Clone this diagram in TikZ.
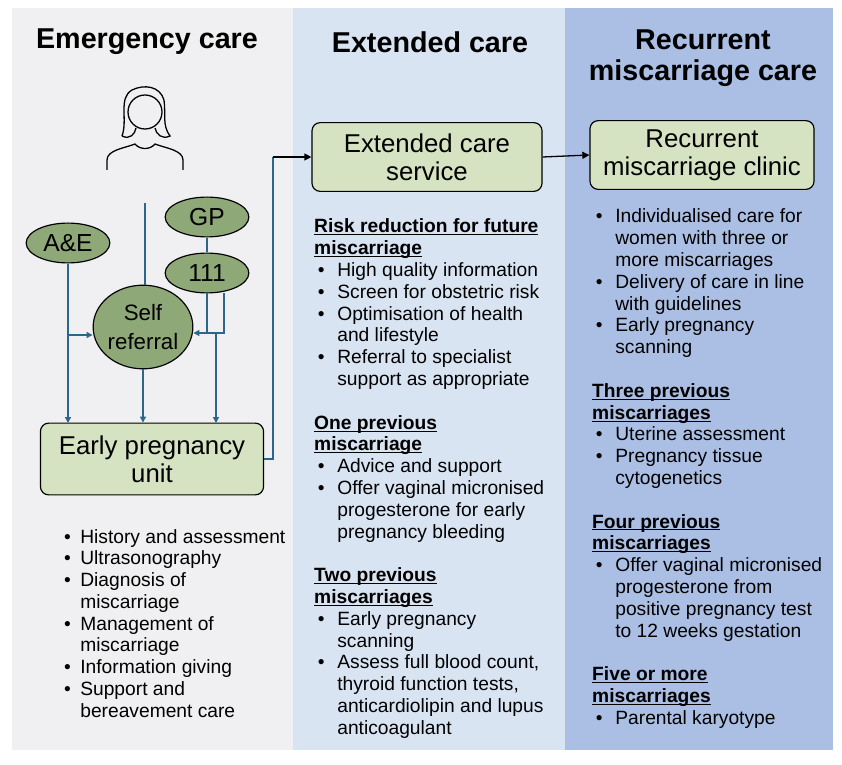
\documentclass[tikz,border=0pt]{standalone}
\usepackage{fontspec}
\setmainfont{Liberation Sans}
\usepackage{xcolor}
\usetikzlibrary{arrows.meta,shapes.geometric}
\definecolor{panelgrey}{HTML}{F0F0F2}
\definecolor{panelblue}{HTML}{D9E4F2}
\definecolor{paneldark}{HTML}{AABFE3}
\definecolor{boxgreen}{HTML}{D6E3C2}
\definecolor{ovalgreen}{HTML}{8EA878}
\definecolor{flowteal}{HTML}{2C6789}
\newcommand{\hd}[1]{\multicolumn{2}{@{}l@{}}{\underline{\smash{\textbf{#1}}}}}
\newcommand{\bl}{\textbullet}
\newcommand{\px}{0.85pt}
\tikzset{
  box/.style={draw=black, line width=1pt, rounded corners=7pt, fill=boxgreen, align=center, font=\fontsize{22}{24}\selectfont},
  oval/.style={draw=black, line width=1pt, ellipse, fill=ovalgreen, inner sep=0pt, font=\fontsize{21}{22}\selectfont},
  flow/.style={draw=flowteal, line width=1.1pt, -{Triangle[length=5pt,width=5pt]}},
  lst/.style={anchor=base west, inner sep=0pt, font=\fontsize{16.4}{18.6}\selectfont},
  ttl/.style={font=\fontsize{24.5}{26}\selectfont\bfseries, align=center}
}
\begin{document}
\begin{tikzpicture}[x=0.03cm,y=-0.03cm]
\useasboundingbox (0,0) rectangle (842,765);
% panels
\fill[panelgrey] (12,8) rectangle (293,750);
\fill[panelblue] (293,8) rectangle (565,750);
\fill[paneldark] (565,8) rectangle (833,750);
% titles
\node[ttl] at (147,42) {Emergency care};
\node[ttl] at (430,42) {Extended care};
\node[ttl] at (703,58) {Recurrent\\miscarriage care};
% person
\draw[line width=1.1pt] (145,112) circle (17);
\draw[line width=1.1pt] (122,136) .. controls (128,120) and (118,98) .. (132,90)
  .. controls (144,84) and (160,86) .. (164,100) .. controls (166,115) and (162,125) .. (170,136)
  .. controls (162,140) and (156,134) .. (155,128);
\draw[line width=1.1pt] (122,136) .. controls (130,140) and (135,134) .. (136,128);
\draw[line width=1.1pt] (107,170) -- (107,160) .. controls (107,150) and (125,148) .. (135,144)
  .. controls (140,150) and (150,150) .. (155,144) .. controls (165,148) and (183,150) .. (183,160) -- (183,170);
% nodes
\node[oval, minimum width=84*\px, minimum height=40*\px] (ae) at (68,243) {A\&E};
\node[oval, minimum width=84*\px, minimum height=40*\px] (gp) at (207,217) {GP};
\node[oval, minimum width=84*\px, minimum height=40*\px] (nhs) at (207,273) {111};
\node[oval, minimum width=96*\px, minimum height=84*\px, align=center, font=\fontsize{19}{24}\selectfont] (self) at (143,327) {Self\\referral};
\node[box, minimum width=224*\px, minimum height=72*\px] (epu) at (152,459) {Early pregnancy\\unit};
\node[box, minimum width=231*\px, minimum height=69*\px] (ext) at (427,157) {Extended care\\service};
\node[box, minimum width=225*\px, minimum height=69*\px] (rec) at (702,155) {Recurrent\\miscarriage clinic};
\coordinate (selftop) at (145,203);
% connectors
\draw[draw=flowteal, line width=1.1pt] (gp) -- (nhs);
\draw[draw=flowteal, line width=1.1pt] (selftop) -- (selftop |- self.north);
\draw[flow] (ae.south) -- (68,423);
\draw[flow] (68,335) -- (self.west |- 0,335);
\draw[draw=flowteal, line width=1.1pt] (207,293) -- (207,333) (224,293) -- (224,333) -- (207,333);
\draw[flow] (207,333) -- (self.east |- 0,333);
\draw[flow] (216,333) -- (216,423);
\draw[flow] (self.south) -- (self.south |- epu.north);
\draw[draw=flowteal, line width=1.1pt] (epu.east) -- (273,459) -- (273,157);
\draw[line width=1.1pt, -{Triangle[length=6pt,width=6pt]}] (273,157) -- (ext.west);
\draw[line width=1.1pt, -{Triangle[length=6pt,width=6pt]}] (ext.east) -- (rec.west);
% lists
\node[lst] (emlist) at (64,543) {\begin{tabular}[t]{@{}l@{\hspace{8pt}}l@{}}
\bl & History and assessment\\
\bl & Ultrasonography\\
\bl & Diagnosis of\\
 & miscarriage\\
\bl & Management of\\
 & miscarriage\\
\bl & Information giving\\
\bl & Support and\\
 & bereavement care
\end{tabular}};
\node[lst] (extlist) at (314,233) {\begin{tabular}[t]{@{\hspace{3pt}}l@{\hspace{11pt}}l@{}}
\hd{Risk reduction for future}\\
\hd{miscarriage}\\
\bl & High quality information\\
\bl & Screen for obstetric risk\\
\bl & Optimisation of health\\
 & and lifestyle\\
\bl & Referral to specialist\\
 & support as appropriate\\[18.6pt]
\hd{One previous}\\
\hd{miscarriage}\\
\bl & Advice and support\\
\bl & Offer vaginal micronised\\
 & progesterone for early\\
 & pregnancy bleeding\\[18.6pt]
\hd{Two previous}\\
\hd{miscarriages}\\
\bl & Early pregnancy\\
 & scanning\\
\bl & Assess full blood count,\\
 & thyroid function tests,\\
 & anticardiolipin and lupus\\
 & anticoagulant
\end{tabular}};
\node[lst] (reclist) at (592,223) {\begin{tabular}[t]{@{\hspace{3pt}}l@{\hspace{11pt}}l@{}}
\bl & Individualised care for\\
 & women with three or\\
 & more miscarriages\\
\bl & Delivery of care in line\\
 & with guidelines\\
\bl & Early pregnancy\\
 & scanning\\[18.6pt]
\hd{Three previous}\\
\hd{miscarriages}\\
\bl & Uterine assessment\\
\bl & Pregnancy tissue\\
 & cytogenetics\\[18.6pt]
\hd{Four previous}\\
\hd{miscarriages}\\
\bl & Offer vaginal micronised\\
 & progesterone from\\
 & positive pregnancy test\\
 & to 12 weeks gestation\\[18.6pt]
\hd{Five or more}\\
\hd{miscarriages}\\
\bl & Parental karyotype
\end{tabular}};
\end{tikzpicture}
\end{document}
